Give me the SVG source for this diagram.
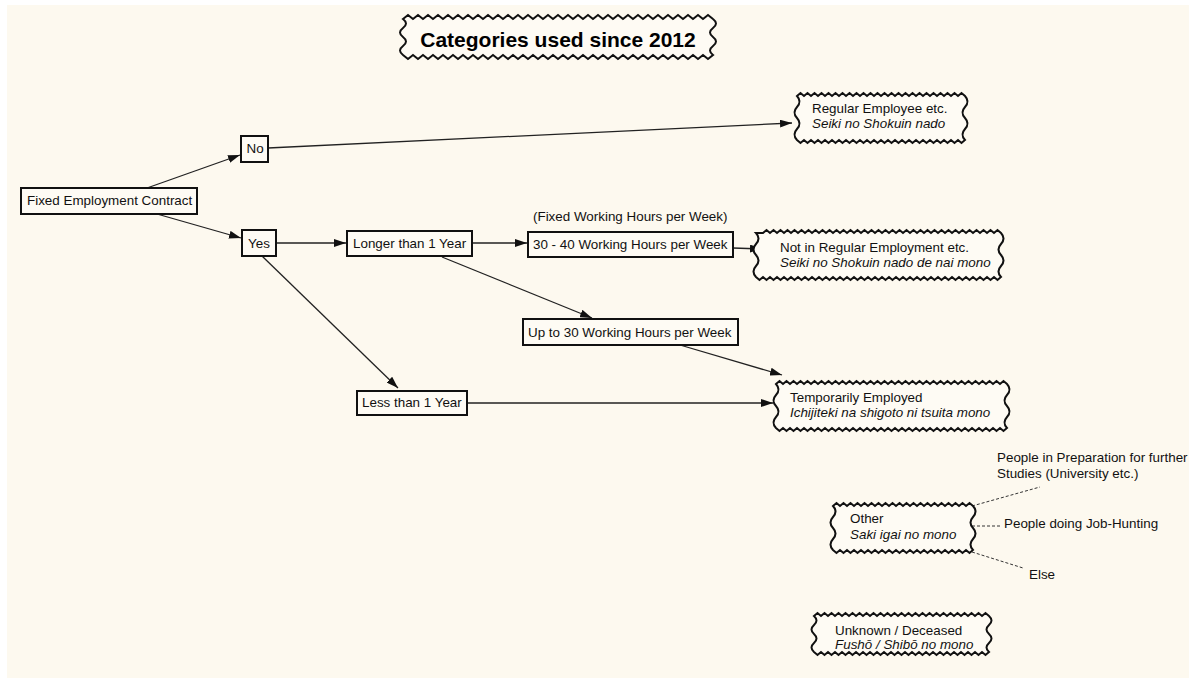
<svg xmlns="http://www.w3.org/2000/svg" width="1189" height="678" viewBox="0 0 1189 678">
<style>
.t{font-family:"Liberation Sans",Arial,sans-serif;font-size:13.4px;fill:#111}
.i{font-style:italic}
.box{fill:#fefbf4;stroke:#111;stroke-width:2}
.wv{fill:#fefbf4;stroke:#111;stroke-width:2;stroke-linejoin:miter}
.ln{fill:none;stroke:#222;stroke-width:1.3;marker-end:url(#ah)}
.dl{fill:none;stroke:#333;stroke-width:1;stroke-dasharray:3,2}
</style>
<defs>
<marker id="ah" markerUnits="userSpaceOnUse" markerWidth="12" markerHeight="8" refX="12" refY="4" orient="auto">
<path d="M0,0 L12,4 L0,8 z" fill="#111"/>
</marker>
</defs>
<rect x="0" y="0" width="1189" height="678" fill="#ffffff"/>
<rect x="7" y="5" width="1182" height="673" fill="#fdf9ef"/>

<g id="title">
<path class="wv" stroke-width="2.5" d="M403,19 l5,-4 5,4 5,-4 5,4 5,-4 5,4 5,-4 5,4 5,-4 5,4 5,-4 5,4 5,-4 5,4 5,-4 5,4 5,-4 5,4 5,-4 5,4 5,-4 5,4 5,-4 5,4 5,-4 5,4 5,-4 5,4 5,-4 5,4 5,-4 5,4 5,-4 5,4 5,-4 5,4 5,-4 5,4 5,-4 5,4 5,-4 5,4 5,-4 5,4 5,-4 5,4 5,-4 5,4 5,-4 5,4 5,-4 5,4 5,-4 5,4 5,-4 5,4 5,-4 5,4 5,-4 5,4 5,-4 5,4 q6,4.5 0,9 t0,9 t0,9 t0,9 l-5,4 -5,-4 -5,4 -5,-4 -5,4 -5,-4 -5,4 -5,-4 -5,4 -5,-4 -5,4 -5,-4 -5,4 -5,-4 -5,4 -5,-4 -5,4 -5,-4 -5,4 -5,-4 -5,4 -5,-4 -5,4 -5,-4 -5,4 -5,-4 -5,4 -5,-4 -5,4 -5,-4 -5,4 -5,-4 -5,4 -5,-4 -5,4 -5,-4 -5,4 -5,-4 -5,4 -5,-4 -5,4 -5,-4 -5,4 -5,-4 -5,4 -5,-4 -5,4 -5,-4 -5,4 -5,-4 -5,4 -5,-4 -5,4 -5,-4 -5,4 -5,-4 -5,4 -5,-4 -5,4 -5,-4 -5,4 -5,-4 q-6,-4.5 0,-9 t0,-9 t0,-9 t0,-9 z"/>
<text x="558" y="47" text-anchor="middle" style="font-family:'Liberation Sans',Arial,sans-serif;font-size:21px;font-weight:bold;fill:#000">Categories used since 2012</text>
</g>

<g id="connectors">
<line class="ln" x1="147" y1="188" x2="240" y2="155"/>
<line class="ln" x1="157" y1="214" x2="241" y2="238"/>
<line class="ln" x1="268" y1="148" x2="792" y2="123"/>
<line class="ln" x1="276" y1="243" x2="346" y2="243"/>
<line class="ln" x1="262" y1="256" x2="398" y2="388"/>
<line class="ln" x1="472" y1="243" x2="527" y2="243"/>
<line class="ln" x1="442" y1="257" x2="592" y2="318"/>
<line class="ln" x1="733" y1="248" x2="762" y2="249"/>
<line class="ln" x1="680" y1="345" x2="782" y2="375"/>
<line class="ln" x1="467" y1="403" x2="773" y2="403"/>
<line class="dl" x1="972" y1="506" x2="1040" y2="487"/>
<line class="dl" x1="972" y1="526" x2="1000" y2="526"/>
<line class="dl" x1="972" y1="552" x2="1023" y2="568"/>
</g>

<g id="fec">
<rect class="box" x="21" y="188" width="176" height="26"/>
<text class="t" x="27" y="205">Fixed Employment Contract</text>
</g>
<g id="no">
<rect class="box" x="241" y="136" width="27" height="26"/>
<text class="t" x="246.5" y="153">No</text>
</g>
<g id="yes">
<rect class="box" x="242" y="230" width="34" height="26"/>
<text class="t" x="248" y="248">Yes</text>
</g>
<g id="longer">
<rect class="box" x="347" y="231" width="125" height="25"/>
<text class="t" x="353" y="248">Longer than 1 Year</text>
</g>
<g id="fixedhours">
<text class="t" x="533" y="221">(Fixed Working Hours per Week)</text>
</g>
<g id="h3040">
<rect class="box" x="528" y="232" width="205" height="25"/>
<text class="t" x="533" y="249">30 - 40 Working Hours per Week</text>
</g>
<g id="upto30">
<rect class="box" x="523" y="319" width="215" height="26"/>
<text class="t" x="528" y="337">Up to 30 Working Hours per Week</text>
</g>
<g id="less">
<rect class="box" x="357" y="391" width="110" height="24"/>
<text class="t" x="362" y="407">Less than 1 Year</text>
</g>

<g id="regular">
<path class="wv" d="M797,96 l3.5,-3 3.5,3 3.5,-3 3.5,3 3.5,-3 3.5,3 3.5,-3 3.5,3 3.5,-3 3.5,3 3.5,-3 3.5,3 3.5,-3 3.5,3 3.5,-3 3.5,3 3.5,-3 3.5,3 3.5,-3 3.5,3 3.5,-3 3.5,3 3.5,-3 3.5,3 3.5,-3 3.5,3 3.5,-3 3.5,3 3.5,-3 3.5,3 3.5,-3 3.5,3 3.5,-3 3.5,3 3.5,-3 3.5,3 3.5,-3 3.5,3 3.5,-3 3.5,3 3.5,-3 3.5,3 3.5,-3 3.5,3 3.5,-3 3.5,3 3.5,-3 3.5,3 q5,5.5 0,11 t0,11 t0,11 t0,11 l-3.5,3 -3.5,-3 -3.5,3 -3.5,-3 -3.5,3 -3.5,-3 -3.5,3 -3.5,-3 -3.5,3 -3.5,-3 -3.5,3 -3.5,-3 -3.5,3 -3.5,-3 -3.5,3 -3.5,-3 -3.5,3 -3.5,-3 -3.5,3 -3.5,-3 -3.5,3 -3.5,-3 -3.5,3 -3.5,-3 -3.5,3 -3.5,-3 -3.5,3 -3.5,-3 -3.5,3 -3.5,-3 -3.5,3 -3.5,-3 -3.5,3 -3.5,-3 -3.5,3 -3.5,-3 -3.5,3 -3.5,-3 -3.5,3 -3.5,-3 -3.5,3 -3.5,-3 -3.5,3 -3.5,-3 -3.5,3 -3.5,-3 -3.5,3 -3.5,-3 q-5,-5.5 0,-11 t0,-11 t0,-11 t0,-11 z"/>
<text class="t" x="812" y="113">Regular Employee etc.</text>
<text class="t i" x="812" y="128">Seiki no Shokuin nado</text>
</g>

<g id="notregular">
<path class="wv" d="M763,233 l3.5,-3 3.5,3 3.5,-3 3.5,3 3.5,-3 3.5,3 3.5,-3 3.5,3 3.5,-3 3.5,3 3.5,-3 3.5,3 3.5,-3 3.5,3 3.5,-3 3.5,3 3.5,-3 3.5,3 3.5,-3 3.5,3 3.5,-3 3.5,3 3.5,-3 3.5,3 3.5,-3 3.5,3 3.5,-3 3.5,3 3.5,-3 3.5,3 3.5,-3 3.5,3 3.5,-3 3.5,3 3.5,-3 3.5,3 3.5,-3 3.5,3 3.5,-3 3.5,3 3.5,-3 3.5,3 3.5,-3 3.5,3 3.5,-3 3.5,3 3.5,-3 3.5,3 3.5,-3 3.5,3 3.5,-3 3.5,3 3.5,-3 3.5,3 3.5,-3 3.5,3 3.5,-3 3.5,3 3.5,-3 3.5,3 3.5,-3 3.5,3 3.5,-3 3.5,3 3.5,-3 3.5,3 3.5,-3 3.5,3 q5,5.5 0,11 t0,11 t0,11 t0,11 l-3.5,3 -3.5,-3 -3.5,3 -3.5,-3 -3.5,3 -3.5,-3 -3.5,3 -3.5,-3 -3.5,3 -3.5,-3 -3.5,3 -3.5,-3 -3.5,3 -3.5,-3 -3.5,3 -3.5,-3 -3.5,3 -3.5,-3 -3.5,3 -3.5,-3 -3.5,3 -3.5,-3 -3.5,3 -3.5,-3 -3.5,3 -3.5,-3 -3.5,3 -3.5,-3 -3.5,3 -3.5,-3 -3.5,3 -3.5,-3 -3.5,3 -3.5,-3 -3.5,3 -3.5,-3 -3.5,3 -3.5,-3 -3.5,3 -3.5,-3 -3.5,3 -3.5,-3 -3.5,3 -3.5,-3 -3.5,3 -3.5,-3 -3.5,3 -3.5,-3 -3.5,3 -3.5,-3 -3.5,3 -3.5,-3 -3.5,3 -3.5,-3 -3.5,3 -3.5,-3 -3.5,3 -3.5,-3 -3.5,3 -3.5,-3 -3.5,3 -3.5,-3 -3.5,3 -3.5,-3 -3.5,3 -3.5,-3 -3.5,3 -3.5,-3 -3.5,3 -3.5,-3 q-5,-5.5 0,-11 t0,-11 t0,-11 t0,-11 z"/>
<text class="t" x="780" y="252">Not in Regular Employment etc.</text>
<text class="t i" x="780" y="267">Seiki no Shokuin nado de nai mono</text>
</g>

<g id="temporary">
<path class="wv" d="M776,384 l3.5,-3 3.5,3 3.5,-3 3.5,3 3.5,-3 3.5,3 3.5,-3 3.5,3 3.5,-3 3.5,3 3.5,-3 3.5,3 3.5,-3 3.5,3 3.5,-3 3.5,3 3.5,-3 3.5,3 3.5,-3 3.5,3 3.5,-3 3.5,3 3.5,-3 3.5,3 3.5,-3 3.5,3 3.5,-3 3.5,3 3.5,-3 3.5,3 3.5,-3 3.5,3 3.5,-3 3.5,3 3.5,-3 3.5,3 3.5,-3 3.5,3 3.5,-3 3.5,3 3.5,-3 3.5,3 3.5,-3 3.5,3 3.5,-3 3.5,3 3.5,-3 3.5,3 3.5,-3 3.5,3 3.5,-3 3.5,3 3.5,-3 3.5,3 3.5,-3 3.5,3 3.5,-3 3.5,3 3.5,-3 3.5,3 3.5,-3 3.5,3 3.5,-3 3.5,3 3.5,-3 3.5,3 q5,5.5 0,11 t0,11 t0,11 t0,11 l-3.5,3 -3.5,-3 -3.5,3 -3.5,-3 -3.5,3 -3.5,-3 -3.5,3 -3.5,-3 -3.5,3 -3.5,-3 -3.5,3 -3.5,-3 -3.5,3 -3.5,-3 -3.5,3 -3.5,-3 -3.5,3 -3.5,-3 -3.5,3 -3.5,-3 -3.5,3 -3.5,-3 -3.5,3 -3.5,-3 -3.5,3 -3.5,-3 -3.5,3 -3.5,-3 -3.5,3 -3.5,-3 -3.5,3 -3.5,-3 -3.5,3 -3.5,-3 -3.5,3 -3.5,-3 -3.5,3 -3.5,-3 -3.5,3 -3.5,-3 -3.5,3 -3.5,-3 -3.5,3 -3.5,-3 -3.5,3 -3.5,-3 -3.5,3 -3.5,-3 -3.5,3 -3.5,-3 -3.5,3 -3.5,-3 -3.5,3 -3.5,-3 -3.5,3 -3.5,-3 -3.5,3 -3.5,-3 -3.5,3 -3.5,-3 -3.5,3 -3.5,-3 -3.5,3 -3.5,-3 -3.5,3 -3.5,-3 q-5,-5.5 0,-11 t0,-11 t0,-11 t0,-11 z"/>
<text class="t" x="790" y="402">Temporarily Employed</text>
<text class="t i" x="790" y="417">Ichijiteki na shigoto ni tsuita mono</text>
</g>

<g id="other">
<path class="wv" d="M833,506 l3.5,-3 3.5,3 3.5,-3 3.5,3 3.5,-3 3.5,3 3.5,-3 3.5,3 3.5,-3 3.5,3 3.5,-3 3.5,3 3.5,-3 3.5,3 3.5,-3 3.5,3 3.5,-3 3.5,3 3.5,-3 3.5,3 3.5,-3 3.5,3 3.5,-3 3.5,3 3.5,-3 3.5,3 3.5,-3 3.5,3 3.5,-3 3.5,3 3.5,-3 3.5,3 3.5,-3 3.5,3 3.5,-3 3.5,3 3.5,-3 3.5,3 3.5,-3 3.5,3 q5,5.5 0,11 t0,11 t0,11 t0,11 l-3.5,3 -3.5,-3 -3.5,3 -3.5,-3 -3.5,3 -3.5,-3 -3.5,3 -3.5,-3 -3.5,3 -3.5,-3 -3.5,3 -3.5,-3 -3.5,3 -3.5,-3 -3.5,3 -3.5,-3 -3.5,3 -3.5,-3 -3.5,3 -3.5,-3 -3.5,3 -3.5,-3 -3.5,3 -3.5,-3 -3.5,3 -3.5,-3 -3.5,3 -3.5,-3 -3.5,3 -3.5,-3 -3.5,3 -3.5,-3 -3.5,3 -3.5,-3 -3.5,3 -3.5,-3 -3.5,3 -3.5,-3 -3.5,3 -3.5,-3 q-5,-5.5 0,-11 t0,-11 t0,-11 t0,-11 z"/>
<text class="t" x="850" y="523">Other</text>
<text class="t i" x="850" y="539">Saki igai no mono</text>
</g>
<g id="other-notes">
<text class="t" x="997" y="462">People in Preparation for further</text>
<text class="t" x="997" y="478">Studies (University etc.)</text>
<text class="t" x="1004" y="528">People doing Job-Hunting</text>
<text class="t" x="1029" y="579">Else</text>
</g>

<g id="unknown">
<path class="wv" d="M814,616 l3.5,-3 3.5,3 3.5,-3 3.5,3 3.5,-3 3.5,3 3.5,-3 3.5,3 3.5,-3 3.5,3 3.5,-3 3.5,3 3.5,-3 3.5,3 3.5,-3 3.5,3 3.5,-3 3.5,3 3.5,-3 3.5,3 3.5,-3 3.5,3 3.5,-3 3.5,3 3.5,-3 3.5,3 3.5,-3 3.5,3 3.5,-3 3.5,3 3.5,-3 3.5,3 3.5,-3 3.5,3 3.5,-3 3.5,3 3.5,-3 3.5,3 3.5,-3 3.5,3 3.5,-3 3.5,3 3.5,-3 3.5,3 3.5,-3 3.5,3 3.5,-3 3.5,3 3.5,-3 3.5,3 q5,4.5 0,9 t0,9 t0,9 t0,9 l-3.5,3 -3.5,-3 -3.5,3 -3.5,-3 -3.5,3 -3.5,-3 -3.5,3 -3.5,-3 -3.5,3 -3.5,-3 -3.5,3 -3.5,-3 -3.5,3 -3.5,-3 -3.5,3 -3.5,-3 -3.5,3 -3.5,-3 -3.5,3 -3.5,-3 -3.5,3 -3.5,-3 -3.5,3 -3.5,-3 -3.5,3 -3.5,-3 -3.5,3 -3.5,-3 -3.5,3 -3.5,-3 -3.5,3 -3.5,-3 -3.5,3 -3.5,-3 -3.5,3 -3.5,-3 -3.5,3 -3.5,-3 -3.5,3 -3.5,-3 -3.5,3 -3.5,-3 -3.5,3 -3.5,-3 -3.5,3 -3.5,-3 -3.5,3 -3.5,-3 -3.5,3 -3.5,-3 q-5,-4.5 0,-9 t0,-9 t0,-9 t0,-9 z"/>
<text class="t" x="835" y="635">Unknown / Deceased</text>
<text class="t i" x="835" y="649">Fushō / Shibō no mono</text>
</g>
</svg>
